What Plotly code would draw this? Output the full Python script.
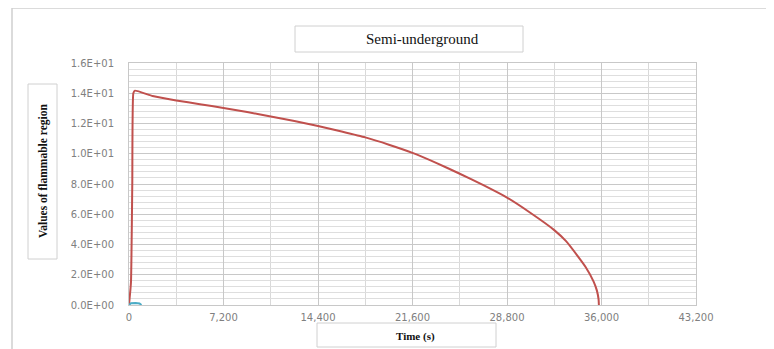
import plotly.graph_objects as go

# Data
time_red = [0, 150, 250, 330, 460, 1800, 3600, 5400, 7200, 9000, 10800, 12600, 14400,
            16200, 18000, 19800, 21600, 23400, 25200, 27000, 28800, 30600, 32400,
            33300, 34200, 34800, 35400, 35650, 35780, 35800]
value_red = [0.0, 1.5, 8.0, 14.0, 14.17, 13.82, 13.52, 13.28, 13.03, 12.76, 12.46, 12.16,
             11.84, 11.47, 11.08, 10.60, 10.06, 9.40, 8.68, 7.92, 7.10, 6.08, 4.95,
             4.22, 3.22, 2.50, 1.55, 0.95, 0.35, 0.0]
time_blue = [0, 150, 500, 800, 950]
value_blue = [0.0, 0.12, 0.13, 0.1, 0.0]

y_tickvals = [0, 2, 4, 6, 8, 10, 12, 14, 16]
y_ticktext = ["0.0E+00", "2.0E+00", "4.0E+00", "6.0E+00", "8.0E+00",
              "1.0E+01", "1.2E+01", "1.4E+01", "1.6E+01"]
x_tickvals = [0, 7200, 14400, 21600, 28800, 36000, 43200]

OFF = 8  # page body margin
W, H = 774 - OFF, 349 - OFF
L, R, T, B = 129 - OFF, 696 - OFF, 63 - OFF, 305 - OFF


def px(x):
    return (x - OFF - L) / (R - L)


def py(y):
    return (B - (y - OFF)) / (B - T)


fig = go.Figure()
fig.add_trace(go.Scatter(x=time_red, y=value_red, mode="lines",
                         line=dict(color="#c0504d", width=2, shape="spline", smoothing=0.4),
                         showlegend=False))
fig.add_trace(go.Scatter(x=time_blue, y=value_blue, mode="lines",
                         line=dict(color="#4bacc6", width=2), showlegend=False))

shapes = [
    # outer chart frame
    dict(type="rect", xref="paper", yref="paper", x0=px(12), x1=px(772), y0=py(352), y1=py(8),
         line=dict(color="#d0d0d0", width=1.5), layer="below"),
    dict(type="line", xref="paper", yref="paper", x0=px(772), x1=px(772), y0=py(352), y1=py(9),
         line=dict(color="#9a9a9a", width=1.5)),
    # title box
    dict(type="rect", xref="paper", yref="paper", x0=px(295), x1=px(523), y0=py(52), y1=py(26),
         line=dict(color="#d0d0d0", width=1)),
    # y title box
    dict(type="rect", xref="paper", yref="paper", x0=px(28), x1=px(57), y0=py(259), y1=py(84),
         line=dict(color="#d0d0d0", width=1)),
    # x title box
    dict(type="rect", xref="paper", yref="paper", x0=px(317), x1=px(496), y0=py(347), y1=py(323),
         line=dict(color="#d0d0d0", width=1)),
]

annotations = [
    dict(text="Semi-underground", xref="paper", yref="paper", x=px(422), y=py(39),
         showarrow=False, font=dict(family="Liberation Serif", size=15, color="#111111"),
         xanchor="center", yanchor="middle"),
    dict(text="<b>Values of flammable region</b>", xref="paper", yref="paper", x=px(43), y=py(171),
         showarrow=False, textangle=-90,
         font=dict(family="Liberation Serif", size=11.5, color="#111111"),
         xanchor="center", yanchor="middle"),
    dict(text="<b>Time (s)</b>", xref="paper", yref="paper", x=px(415), y=py(336),
         showarrow=False, font=dict(family="Liberation Serif", size=11, color="#111111"),
         xanchor="center", yanchor="middle"),
]

fig.update_layout(
    width=W, height=H,
    margin=dict(l=L, r=W - R, t=T, b=H - B, pad=0),
    paper_bgcolor="white", plot_bgcolor="white",
    shapes=shapes, annotations=annotations,
    xaxis=dict(range=[0, 43200], tickvals=x_tickvals, tickformat=",",
               showgrid=True, gridcolor="#c8c8c8", gridwidth=1,
               minor=dict(dtick=3600, tick0=0, showgrid=True, gridcolor="#d9d9d9", gridwidth=1),
               showline=True, linecolor="#c8c8c8", linewidth=1, mirror=True,
               ticks="", zeroline=False, ticklabelstandoff=3,
               tickfont=dict(family="DejaVu Sans", size=10, color="#808080")),
    yaxis=dict(range=[0, 16], tickvals=y_tickvals, ticktext=y_ticktext,
               showgrid=True, gridcolor="#c8c8c8", gridwidth=1,
               minor=dict(dtick=0.4, tick0=0, showgrid=True, gridcolor="#dedede", gridwidth=1),
               showline=True, linecolor="#c8c8c8", linewidth=1, mirror=True,
               ticks="", zeroline=False, ticklabelstandoff=12,
               tickfont=dict(family="DejaVu Sans", size=10, color="#808080")),
)

fig.write_html("out.html")
